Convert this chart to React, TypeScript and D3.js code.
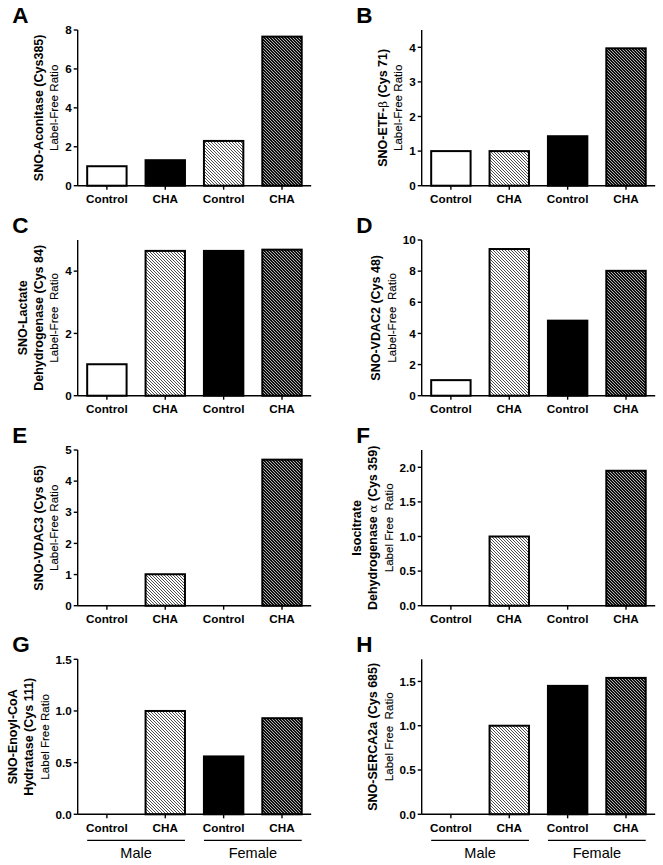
import React from "react";
import * as d3 from "d3";

// ---- data ----
const categories = ["Control", "CHA", "Control", "CHA"];
const groupLabels = ["Male", "Female"];
const panelLetters = ["A", "B", "C", "D", "E", "F", "G", "H"];

const valuesA = [1.0, 1.31, 2.3, 7.66];
const valuesB = [1.0, 1.0, 1.43, 3.97];
const valuesC = [1.01, 4.65, 4.65, 4.69];
const valuesD = [1.0, 9.42, 4.82, 8.02];
const valuesE = [0, 1.01, 0, 4.69];
const valuesF = [0, 1.0, 0, 1.95];
const valuesG = [0, 1.0, 0.56, 0.93];
const valuesH = [0, 1.0, 1.45, 1.54];

const yMaxA = 8, yMaxB = 4.5, yMaxC = 5, yMaxD = 10, yMaxE = 5, yMaxF = 2.25, yMaxG = 1.5, yMaxH = 1.75;

const ticksA = [0, 2, 4, 6, 8];
const ticksB = [0, 1, 2, 3, 4];
const ticksC = [0, 2, 4];
const ticksD = [0, 2, 4, 6, 8, 10];
const ticksE = [0, 1, 2, 3, 4, 5];
const ticksF = [0, 0.5, 1.0, 1.5, 2.0];
const ticksG = [0, 0.5, 1.0, 1.5];
const ticksH = [0, 0.5, 1.0, 1.5];

const titleA = ["SNO-Aconitase (Cys385)", "Label-Free Ratio"];
const titleB = ["SNO-ETF-β (Cys 71)", "Label-Free Ratio"];
const titleC = ["SNO-Lactate", "Dehydrogenase (Cys 84)", "Label-Free  Ratio"];
const titleD = ["SNO-VDAC2 (Cys 48)", "Label-Free  Ratio"];
const titleE = ["SNO-VDAC3 (Cys 65)", "Label-Free Ratio"];
const titleF = ["Isocitrate", "Dehydrogenase α (Cys 359)", "Label Free  Ratio"];
const titleG = ["SNO-Enoyl-CoA", "Hydratase (Cys 111)", "Label Free Ratio"];
const titleH = ["SNO-SERCA2a (Cys 685)", "Label Free  Ratio"];

const fillsA = ["white", "black", "light", "dark"];
const fillsRest = ["white", "light", "black", "dark"];

const panels = [
  { values: valuesA, yMax: yMaxA, ticks: ticksA, title: titleA, fills: fillsA, dec: 0, groups: false },
  { values: valuesB, yMax: yMaxB, ticks: ticksB, title: titleB, fills: fillsRest, dec: 0, groups: false },
  { values: valuesC, yMax: yMaxC, ticks: ticksC, title: titleC, fills: fillsRest, dec: 0, groups: false },
  { values: valuesD, yMax: yMaxD, ticks: ticksD, title: titleD, fills: fillsRest, dec: 0, groups: false },
  { values: valuesE, yMax: yMaxE, ticks: ticksE, title: titleE, fills: fillsRest, dec: 0, groups: false },
  { values: valuesF, yMax: yMaxF, ticks: ticksF, title: titleF, fills: fillsRest, dec: 1, groups: false },
  { values: valuesG, yMax: yMaxG, ticks: ticksG, title: titleG, fills: fillsRest, dec: 1, groups: true },
  { values: valuesH, yMax: yMaxH, ticks: ticksH, title: titleH, fills: fillsRest, dec: 1, groups: true },
];

// ---- layout ----
const W = 663, H = 865;
const colAxisX = [77.7, 421.7];
const rowTop = [30, 240, 450, 659.3];
const rowBottom = [185.7, 395.7, 605.7, 814.3];
const plotWidth = 233.5;
const FONT = "'Liberation Sans', Arial, Helvetica, sans-serif";
const tickFs = 11.7;
const titleFs = 12.5;
const regFs = 11.6;

function fillFor(k: string) {
  if (k === "light") return "url(#hatchLight)";
  if (k === "dark") return "url(#hatchDark)";
  return k;
}

function TitleLine({ text, bold, x, y }: { text: string; bold: boolean; x: number; y: number }) {
  const parts = text.split(/([αβ])/).filter((p) => p.length > 0);
  return (
    <text
      transform={`translate(${x},${y}) rotate(-90)`}
      textAnchor="middle"
      fontFamily={FONT}
      fontSize={bold ? titleFs : regFs}
      fontWeight={bold ? "bold" : "normal"}
      stroke={bold ? "none" : "black"}
      strokeWidth={bold ? 0 : 0.15}
      style={{ whiteSpace: "pre" }}
    >
      {parts.map((p, i) =>
        p === "α" || p === "β" ? (
          <tspan key={i} fontWeight="normal" fontFamily="'DejaVu Serif', serif" fontSize={titleFs * 0.95}>
            {p}
          </tspan>
        ) : (
          <tspan key={i}>{p}</tspan>
        )
      )}
    </text>
  );
}

function Panel({ idx }: { idx: number }) {
  const p = panels[idx];
  const col = idx % 2;
  const row = Math.floor(idx / 2);
  const ax = colAxisX[col];
  const top = rowTop[row];
  const bottom = rowBottom[row];

  const x = d3
    .scaleBand<number>()
    .domain(d3.range(categories.length))
    .range([ax, ax + plotWidth])
    .paddingInner(0.325)
    .paddingOuter(0.1625);
  const y = d3.scaleLinear().domain([0, p.yMax]).range([bottom, top]);
  const fmt = d3.format(p.dec ? ".1f" : "d");

  const labels = p.ticks.map((t) => fmt(t));
  const tickW = d3.max(labels, (s) =>
    Array.from(s).reduce((a, c) => a + (c === "." ? 0.278 : 0.556) * tickFs, 0)
  ) as number;
  const lastBaseline = ax - 6 - tickW - 6.8;
  const nLines = p.title.length;
  const midY = (top + bottom) / 2;

  return (
    <g>
      <text x={ax - 65.5} y={top - 7.5} fontFamily={FONT} fontSize={22.5} fontWeight="bold">
        {panelLetters[idx]}
      </text>

      {p.values.map((v, i) =>
        v > 0 ? (
          <rect
            key={i}
            x={x(i)}
            y={y(v)}
            width={x.bandwidth()}
            height={bottom - y(v)}
            fill={fillFor(p.fills[i])}
            stroke="black"
            strokeWidth={2}
          />
        ) : null
      )}

      <line x1={ax} x2={ax} y1={top} y2={bottom} stroke="black" strokeWidth={1.4} />
      {p.ticks.map((t, i) => (
        <g key={i}>
          <line x1={ax - 4} x2={ax} y1={y(t)} y2={y(t)} stroke="black" strokeWidth={1.4} />
          <text
            x={ax - 6}
            y={y(t)}
            dy="0.36em"
            textAnchor="end"
            fontFamily={FONT}
            fontSize={tickFs}
            fontWeight="bold"
          >
            {labels[i]}
          </text>
        </g>
      ))}

      <line x1={ax} x2={ax + plotWidth} y1={bottom} y2={bottom} stroke="black" strokeWidth={1.4} />
      {categories.map((c, i) => {
        const cx = (x(i) as number) + x.bandwidth() / 2;
        return (
          <g key={i}>
            <line x1={cx} x2={cx} y1={bottom} y2={bottom + 4} stroke="black" strokeWidth={1.4} />
            <text
              x={cx}
              y={bottom + 17.6}
              textAnchor="middle"
              fontFamily={FONT}
              fontSize={tickFs}
              fontWeight="bold"
            >
              {c}
            </text>
          </g>
        );
      })}

      {p.title.map((line, i) => (
        <TitleLine
          key={i}
          text={line}
          bold={i < nLines - 1}
          x={lastBaseline - (nLines - 1 - i) * 15.6}
          y={midY}
        />
      ))}

      {p.groups &&
        groupLabels.map((g, gi) => {
          const x0 = x(gi * 2) as number;
          const x1 = (x(gi * 2 + 1) as number) + x.bandwidth();
          return (
            <g key={gi}>
              <line x1={x0} x2={x1} y1={bottom + 26} y2={bottom + 26} stroke="black" strokeWidth={1.3} />
              <text
                x={(x0 + x1) / 2}
                y={bottom + 44}
                textAnchor="middle"
                fontFamily={FONT}
                fontSize={14.5}
              >
                {g}
              </text>
            </g>
          );
        })}
    </g>
  );
}

export default function App() {
  return (
    <svg
      width={W}
      height={H}
      viewBox={`0 0 ${W} ${H}`}
      style={{ position: "absolute", left: 0, top: 0, background: "white" }}
    >
      <defs>
        <pattern id="hatchLight" patternUnits="userSpaceOnUse" width={3} height={3}>
          <rect width={3} height={3} fill="white" />
          <path d="M-1,-1 L4,4 M-1,2 L1,4 M2,-1 L4,1" stroke="#3a3a3a" strokeWidth={0.9} />
        </pattern>
        <pattern id="hatchDark" patternUnits="userSpaceOnUse" width={3} height={3}>
          <rect width={3} height={3} fill="#111" />
          <path d="M-1,-1 L4,4 M-1,2 L1,4 M2,-1 L4,1" stroke="#e8e8e8" strokeWidth={0.75} />
        </pattern>
      </defs>
      <rect width={W} height={H} fill="white" />
      {panels.map((_, i) => (
        <Panel key={i} idx={i} />
      ))}
    </svg>
  );
}
